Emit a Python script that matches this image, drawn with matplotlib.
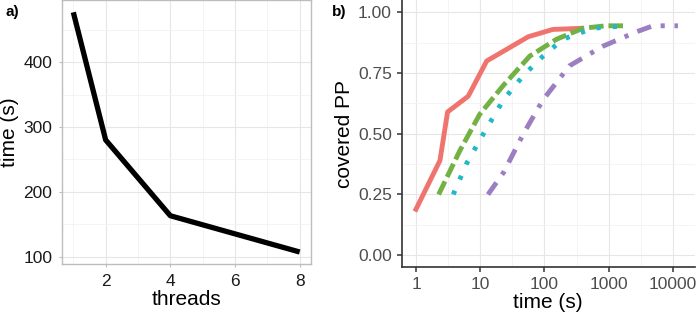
import numpy as np
import matplotlib.pyplot as plt

plt.rcParams['font.family'] = ['Liberation Sans', 'DejaVu Sans']

# panel a: runtime vs threads
threads = [1, 2, 4, 8]
runtime = [477, 280, 163, 107]

# panel b: covered PP vs time, four runs
red_t = [0.96, 2.36, 3.1, 6.5, 12.6, 56, 135, 400]
red_v = [0.18, 0.39, 0.59, 0.655, 0.80, 0.90, 0.93, 0.935]
green_t = [2.25, 4.8, 9.8, 23, 59, 155, 400, 900, 1850]
green_v = [0.25, 0.43, 0.58, 0.70, 0.82, 0.89, 0.935, 0.945, 0.945]
teal_t = [3.8, 6.2, 11.2, 23, 47, 95, 195, 570, 1850]
teal_v = [0.25, 0.38, 0.50, 0.64, 0.74, 0.82, 0.89, 0.935, 0.945]
purple_t = [13.2, 23, 47, 95, 245, 800, 2700, 4900, 12000]
purple_v = [0.25, 0.34, 0.50, 0.64, 0.78, 0.86, 0.92, 0.945, 0.945]

fig = plt.figure(figsize=(6.97, 3.17), dpi=100)

######## panel a
ax1 = fig.add_axes([62/697, 53/317, 249/697, 264/317 - 0.001])
ax1.plot(threads, runtime, color="black", lw=3.8, solid_capstyle="butt", zorder=3)
ax1.set_xlim(0.65, 8.35)
ax1.set_ylim(88.5, 495.5)
ax1.set_xticks([2, 4, 6, 8])
ax1.set_xticks([1, 3, 5, 7], minor=True)
ax1.set_yticks([100, 200, 300, 400])
ax1.set_yticks([150, 250, 350, 450], minor=True)
ax1.grid(which="major", color="#e6e6e6", lw=0.8)
ax1.grid(which="minor", color="#f2f2f2", lw=0.6)
ax1.set_axisbelow(True)
for s in ax1.spines.values():
    s.set_color("#bdbdbd")
    s.set_linewidth(1.0)
ax1.tick_params(which="major", length=2.5, color="#bdbdbd", labelsize=12.5,
                labelcolor="#1a1a1a", pad=4.5)
ax1.tick_params(which="minor", length=0)
ax1.set_xlabel("threads", fontsize=15, labelpad=1)
ax1.set_ylabel("time (s)", fontsize=15, labelpad=3)
fig.text(6/697, 1 - 12/317, "a)", fontsize=11, fontweight="bold", va="center")

######## panel b
ax2 = fig.add_axes([401.7/697, 49.7/317, 293/697, 267.3/317 - 0.001])
lw = 3.5
ax2.plot(red_t, red_v, color="#F0746E", lw=lw, solid_capstyle="butt")
ax2.plot(green_t, green_v, color="#72B244", lw=lw, dashes=(3.0, 1.0), dash_capstyle="butt")
ax2.plot(teal_t, teal_v, color="#22B8C8", lw=lw, dashes=(0.85, 2.5), dash_capstyle="butt")
ax2.plot(purple_t, purple_v, color="#9C7FC2", lw=lw, dashes=(3.0, 2.0, 0.85, 2.0), dash_capstyle="butt")
ax2.set_xscale("log")
ax2.set_xlim(10**-0.223, 10**4.34)
ax2.set_ylim(-0.05, 1.05)
ax2.set_xticks([1, 10, 100, 1000, 10000])
ax2.set_xticklabels(["1", "10", "100", "1000", "10000"])
ax2.set_xticks([10**0.5, 10**1.5, 10**2.5, 10**3.5], minor=True)
ax2.set_yticks([0, 0.25, 0.5, 0.75, 1.0])
ax2.set_yticklabels(["0.00", "0.25", "0.50", "0.75", "1.00"])
ax2.set_yticks([0.125, 0.375, 0.625, 0.875], minor=True)
ax2.grid(which="major", color="#e6e6e6", lw=0.8)
ax2.grid(which="minor", color="#f2f2f2", lw=0.6)
ax2.set_axisbelow(True)
ax2.spines["top"].set_visible(False)
ax2.spines["right"].set_visible(False)
for k in ["left", "bottom"]:
    ax2.spines[k].set_color("#333333")
    ax2.spines[k].set_linewidth(1.2)
ax2.tick_params(which="major", length=3.5, width=1.1, color="#333333", labelsize=12.5,
                labelcolor="#4d4d4d", pad=3.5)
ax2.tick_params(which="minor", length=0)
ax2.set_xlabel("time (s)", fontsize=15, labelpad=1)
ax2.set_ylabel("covered PP", fontsize=15, labelpad=3)
fig.text(332/697, 1 - 12/317, "b)", fontsize=11, fontweight="bold", va="center")

fig.savefig("out.png", dpi=100)
